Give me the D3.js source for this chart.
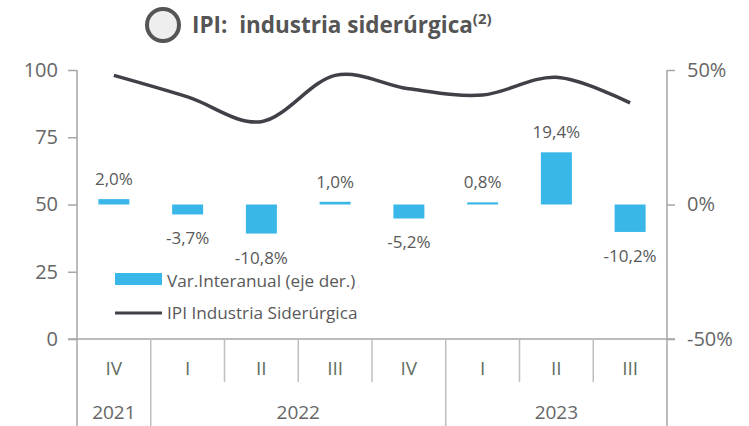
<!DOCTYPE html>
<html><head><meta charset="utf-8">
<script src="https://cdn.jsdelivr.net/npm/d3@7"></script>
<style>body{margin:0;background:#fff}svg{display:block}text{font-family:"Open Sans",sans-serif}</style>
</head><body><svg id="c" width="749" height="426"></svg>
<script>
const quarters = ["IV","I","II","III","IV","I","II","III"];
const years = [{label:"2021", from:0, to:1},{label:"2022", from:1, to:5},{label:"2023", from:5, to:8}];
const varInteranual = [2.0,-3.7,-10.8,1.0,-5.2,0.8,19.4,-10.2];
const ipiIndex = [98.0,90.0,80.8,98.0,93.0,90.7,97.3,87.8];
const leftTicks = [0,25,50,75,100];
const rightTicks = [-50,0,50];
const barLabels = ["2,0%","-3,7%","-10,8%","1,0%","-5,2%","0,8%","19,4%","-10,2%"];

const svg = d3.select("#c");
const X0 = 77, X1 = 667, YT = 70, YB = 339;
const x = d3.scaleBand().domain(d3.range(quarters.length)).range([X0, X1]).paddingInner(0).paddingOuter(0);
const yL = d3.scaleLinear().domain([0,100]).range([YB, YT]);
const yR = d3.scaleLinear().domain([-50,50]).range([YB, YT]);
const gray = "#a6a6a6";

// title
svg.append("circle").attr("cx",163).attr("cy",25).attr("r",16).attr("fill","#eeeeee").attr("stroke","#555555").attr("stroke-width",4);
const t = svg.append("text").attr("x",192).attr("y",33).attr("font-size",22.5).attr("font-weight","bold").attr("fill","#555555");
t.append("tspan").text("IPI:\u00a0\u00a0industria siderúrgica");
t.append("tspan").attr("font-size",15).attr("dy",-9).text("(2)");

// left axis
const gl = svg.append("g").attr("transform",`translate(${X0},0)`)
  .call(d3.axisLeft(yL).tickValues(leftTicks).tickSize(9).tickPadding(10));
gl.select(".domain").remove();
gl.selectAll("line").attr("stroke",gray).attr("stroke-width",1.5);
gl.selectAll("text").attr("font-size",20).attr("fill","#666666").attr("font-family","Open Sans");

// right axis
const gr = svg.append("g").attr("transform",`translate(${X1},0)`)
  .call(d3.axisRight(yR).tickValues(rightTicks).tickSize(8).tickPadding(12).tickFormat(d=>d+"%"));
gr.select(".domain").remove();
gr.selectAll("line").attr("stroke",gray).attr("stroke-width",1.5);
gr.selectAll("text").attr("font-size",20).attr("fill","#666666").attr("font-family","Open Sans");

// axis verticals
svg.append("line").attr("x1",X0).attr("x2",X0).attr("y1",YT).attr("y2",426).attr("stroke",gray).attr("stroke-width",1.5);
svg.append("line").attr("x1",X1).attr("x2",X1).attr("y1",YT).attr("y2",426).attr("stroke",gray).attr("stroke-width",1.5);
// x axis baseline
svg.append("line").attr("x1",X0-9).attr("x2",X1+8).attr("y1",YB).attr("y2",YB).attr("stroke",gray).attr("stroke-width",1.5);

// category separators
const yearStarts = new Set(years.map(d=>d.from));
d3.range(1, quarters.length).forEach(i=>{
  const xx = x(i);
  svg.append("line").attr("x1",xx).attr("x2",xx).attr("y1",YB).attr("y2",yearStarts.has(i)?426:382)
    .attr("stroke","#bfbfbf").attr("stroke-width",1.5);
});
svg.selectAll("text.q").data(quarters).join("text").attr("class","q")
  .attr("x",(d,i)=>x(i)+x.bandwidth()/2).attr("y",375).attr("text-anchor","middle")
  .attr("font-size",19).attr("fill","#5f6e5f").text(d=>d);
svg.selectAll("text.yr").data(years).join("text").attr("class","yr")
  .attr("x",d=>(x(d.from)+ (d.to<quarters.length? x(d.to): X1))/2).attr("y",419).attr("text-anchor","middle")
  .attr("font-size",19).attr("fill","#666666").text(d=>d.label);

// bars
const bw = 31;
svg.selectAll("rect.bar").data(varInteranual).join("rect").attr("class","bar")
  .attr("x",(d,i)=>x(i)+x.bandwidth()/2-bw/2).attr("width",bw)
  .attr("y",d=>Math.min(yR(d),yR(0))).attr("height",d=>Math.abs(yR(d)-yR(0)))
  .attr("fill","#38b7e8");
svg.selectAll("text.bl").data(varInteranual).join("text").attr("class","bl")
  .attr("x",(d,i)=>x(i)+x.bandwidth()/2).attr("y",d=> d>=0 ? yR(d)-14 : yR(d)+30)
  .attr("text-anchor","middle").attr("font-size",17).attr("fill","#595959")
  .text((d,i)=>barLabels[i]);

// line
const line = d3.line().x((d,i)=>x(i)+x.bandwidth()/2).y(d=>yL(d)).curve(d3.curveCardinal.tension(0));
svg.append("path").datum(ipiIndex).attr("d",line).attr("fill","none").attr("stroke","#404048").attr("stroke-width",3.5);

// legend
svg.append("rect").attr("x",115).attr("y",273).attr("width",47).attr("height",12).attr("fill","#38b7e8");
svg.append("text").attr("x",167).attr("y",287).attr("font-size",17.2).attr("fill","#595959").text("Var.Interanual (eje der.)");
svg.append("line").attr("x1",115).attr("x2",162).attr("y1",313).attr("y2",313).attr("stroke","#404048").attr("stroke-width",3);
svg.append("text").attr("x",167).attr("y",319).attr("font-size",17.2).attr("fill","#595959").text("IPI Industria Siderúrgica");
</script></body></html>
